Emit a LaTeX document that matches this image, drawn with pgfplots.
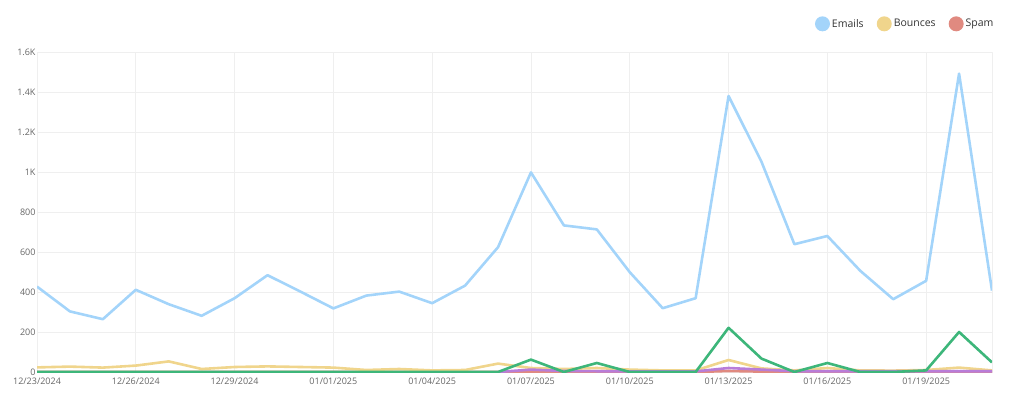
\documentclass[border=0pt]{standalone}
\usepackage{fontspec}
\setmainfont{Open Sans}
\usepackage{pgfplots}
\pgfplotsset{compat=1.18}
\definecolor{cEmail}{HTML}{A3D4FA}
\definecolor{cBounce}{HTML}{F0D58C}
\definecolor{cSpam}{HTML}{E08A80}
\definecolor{cGreen}{HTML}{3DB67A}
\definecolor{cPurple}{HTML}{B97DD8}
\definecolor{gridc}{HTML}{EFEFEF}
\definecolor{txt}{HTML}{666666}
\begin{document}
\begin{tikzpicture}
\begin{axis}[
  at={(0,0)}, anchor=origin,
  scale only axis, width=955pt, height=320pt,
  xmin=0, xmax=29, ymin=0, ymax=1600,
  xtick={0,3,...,27},
  xticklabels={12/23/2024,12/26/2024,12/29/2024,01/01/2025,01/04/2025,01/07/2025,01/10/2025,01/13/2025,01/16/2025,01/19/2025},
  ytick={0,200,...,1600},
  yticklabels={0,200,400,600,800,1K,1.2K,1.4K,1.6K},
  tick style={draw=none},
  grid=major,
  grid style={draw=gridc, line width=0.8pt},
  axis line style={draw=gridc, line width=0.8pt},
  ticklabel style={font=\fontsize{9}{10}\selectfont, text=txt},
  xticklabel style={yshift=-2pt},
  yticklabel style={xshift=2pt},
  legend columns=3,
  legend style={at={(rel axis cs:1.007,1.088)}, anchor=east, draw=none, fill=none,
    font=\fontsize{10.5}{11}\selectfont, text=black!80,
    /tikz/every even column/.append style={column sep=11pt}},
  legend image code/.code={\fill[#1, draw=none] (0.15cm,0) circle (7.5pt);},
  line join=round,
]
\addlegendimage{fill=cEmail, draw=none}
\addlegendentry{Emails}
\addlegendimage{fill=cBounce, draw=none}
\addlegendentry{Bounces}
\addlegendimage{fill=cSpam, draw=none}
\addlegendentry{Spam}

\addplot[forget plot, cSpam, line width=2.6pt] coordinates {
(0,0)(1,0)(2,0)(3,0)(4,0)(5,0)(6,0)(7,0)(8,0)(9,0)(10,0)(11,0)(12,0)(13,0)(14,0)
(15,2)(16,2)(17,1)(18,0)(19,0)(20,0)(21,5)(22,2)(23,0)(24,1)(25,0)(26,0)(27,0)(28,1)(29,0)};
\addplot[forget plot, cBounce, line width=2.6pt] coordinates {
(0,23)(1,27)(2,22)(3,32)(4,53)(5,15)(6,25)(7,28)(8,25)(9,22)(10,10)(11,15)(12,8)(13,10)(14,42)
(15,20)(16,15)(17,20)(18,12)(19,8)(20,8)(21,60)(22,18)(23,8)(24,20)(25,8)(26,7)(27,10)(28,22)(29,8)};
\addplot[forget plot, cPurple, line width=2.6pt] coordinates {
(14,0)(15,12)(16,5)(17,4)(18,3)(19,3)(20,3)(21,20)(22,12)(23,4)(24,4)(25,4)(26,4)(27,4)(28,4)(29,4)};
\addplot[forget plot, cGreen, line width=2.6pt] coordinates {
(0,0)(1,0)(2,0)(3,0)(4,0)(5,0)(6,0)(7,0)(8,0)(9,0)(10,0)(11,0)(12,0)(13,0)(14,0)
(15,62)(16,0)(17,45)(18,0)(19,0)(20,0)(21,221)(22,67)(23,0)(24,45)(25,0)(26,0)(27,8)(28,200)(29,48)};
\addplot[forget plot, cEmail, line width=2.6pt] coordinates {
(0,427)(1,303)(2,264)(3,411)(4,339)(5,281)(6,369)(7,484)(8,402)(9,318)(10,382)(11,402)(12,344)(13,432)(14,624)
(15,998)(16,733)(17,713)(18,499)(19,319)(20,369)(21,1380)(22,1051)(23,639)(24,680)(25,506)(26,364)(27,456)(28,1492)(29,407)};
\end{axis}
\pgfresetboundingbox
\useasboundingbox (-37pt,-27pt) rectangle (987pt,372pt);
\end{tikzpicture}
\end{document}
